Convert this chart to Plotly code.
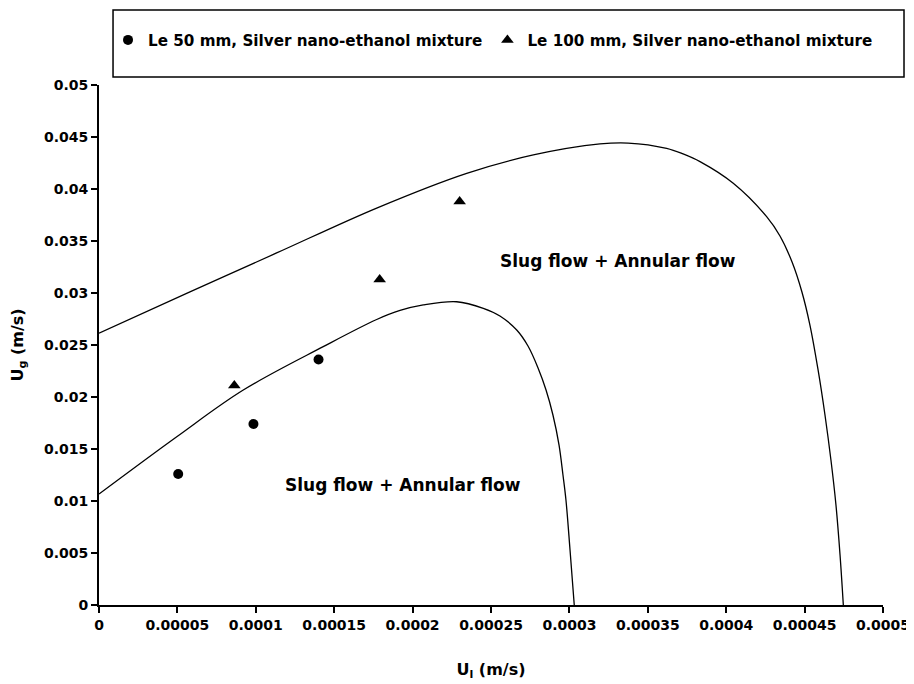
import plotly.graph_objects as go

# Data points
le50_x = [0.0000505, 0.0000985, 0.00014]
le50_y = [0.0126, 0.0174, 0.0236]
le100_x = [0.0000863, 0.000179, 0.00023]
le100_y = [0.0211, 0.0313, 0.0388]

# Boundary curves
lower_x = [0.0, 0.0000496, 0.0000920, 0.0001430, 0.0001771, 0.0001920, 0.0002068, 0.0002281,
           0.0002451, 0.0002557, 0.0002664, 0.0002736, 0.0002800, 0.0002851, 0.0002895,
           0.0002934, 0.0002959, 0.0002978, 0.0003004, 0.0003031]
lower_y = [0.01067, 0.01618, 0.02067, 0.02484, 0.02745, 0.02832, 0.02885, 0.02916,
           0.02853, 0.02779, 0.02644, 0.02490, 0.02279, 0.02067, 0.01827,
           0.01538, 0.01250, 0.0101, 0.00529, 0.0]
upper_x = [0.0, 0.0000580, 0.0001133, 0.0001771, 0.0002345, 0.0002770, 0.0003195,
           0.0003374, 0.0003620, 0.0003725, 0.0003833, 0.0004045, 0.0004258,
           0.0004343, 0.0004420, 0.0004483, 0.0004534, 0.0004586, 0.0004630, 0.0004668,
           0.0004700, 0.0004726, 0.0004747]
upper_y = [0.02613, 0.03010, 0.03385, 0.03817, 0.04151, 0.04327, 0.04433,
           0.04442, 0.04391, 0.04337, 0.04263, 0.04055, 0.03734,
           0.03548, 0.03298, 0.03010, 0.02692, 0.02260, 0.01827, 0.01394,
           0.00962, 0.00481, 0.0]

x_tickvals = [0, 0.00005, 0.0001, 0.00015, 0.0002, 0.00025, 0.0003, 0.00035, 0.0004, 0.00045, 0.0005]
x_ticktext = ["0", "0.00005", "0.0001", "0.00015", "0.0002", "0.00025", "0.0003", "0.00035", "0.0004", "0.00045", "0.0005"]
y_tickvals = [0, 0.005, 0.01, 0.015, 0.02, 0.025, 0.03, 0.035, 0.04, 0.045, 0.05]
y_ticktext = ["0", "0.005", "0.01", "0.015", "0.02", "0.025", "0.03", "0.035", "0.04", "0.045", "0.05"]

region_label = "Slug flow + Annular flow"

FONT = "DejaVu Sans"

fig = go.Figure()
fig.add_trace(go.Scatter(x=upper_x, y=upper_y, mode="lines", line=dict(color="black", width=1.3, shape="spline", smoothing=1.0),
                         showlegend=False, hoverinfo="skip"))
fig.add_trace(go.Scatter(x=lower_x, y=lower_y, mode="lines", line=dict(color="black", width=1.3, shape="spline", smoothing=1.0),
                         showlegend=False, hoverinfo="skip"))
fig.add_trace(go.Scatter(x=le50_x, y=le50_y, mode="markers", name="Le 50 mm, Silver nano-ethanol mixture",
                         marker=dict(symbol="circle", size=10, color="black")))
fig.add_trace(go.Scatter(x=le100_x, y=le100_y, mode="markers", name="Le 100 mm, Silver nano-ethanol mixture",
                         marker=dict(symbol="triangle-up", size=11, color="black")))

fig.add_annotation(x=0.0003307, y=0.03308, text=region_label, showarrow=False,
                   font=dict(family=FONT, size=17, color="black", weight="bold"))
fig.add_annotation(x=0.0001939, y=0.01154, text=region_label, showarrow=False,
                   font=dict(family=FONT, size=17, color="black", weight="bold"))

# legend frame
fig.add_shape(type="rect", xref="paper", yref="paper", x0=0.0179, x1=1.0268, y0=1.0154, y1=1.1442,
              line=dict(color="black", width=1.5), fillcolor="rgba(0,0,0,0)")

# the page body adds an 8 px offset, so the figure is sized/margined to compensate
fig.update_layout(
    width=906, height=676,
    margin=dict(l=91, r=31, t=77, b=79),
    paper_bgcolor="white", plot_bgcolor="white",
    font=dict(family=FONT, size=14, color="black", weight="bold"),
    legend=dict(orientation="h", x=0.0115, xanchor="left", y=1.0865, yanchor="middle",
                font=dict(family=FONT, size=15.2, color="black", weight="bold"),
                bgcolor="rgba(0,0,0,0)", borderwidth=0, itemwidth=30, tracegroupgap=0),
    xaxis=dict(range=[0, 0.0005], tickvals=x_tickvals, ticktext=x_ticktext, automargin=False,
               showline=True, linecolor="black", linewidth=2, showgrid=False, zeroline=False,
               ticks="outside", ticklen=6, tickwidth=1.5, tickcolor="black",
               tickfont=dict(family=FONT, size=14, weight="bold"),
               title=dict(text="U<sub>l</sub> (m/s)", font=dict(family=FONT, size=16, weight="bold"), standoff=32)),
    yaxis=dict(range=[0, 0.05], tickvals=y_tickvals, ticktext=y_ticktext, automargin=False,
               showline=True, linecolor="black", linewidth=2, showgrid=False, zeroline=False,
               ticks="outside", ticklen=6, tickwidth=1.5, tickcolor="black",
               tickfont=dict(family=FONT, size=14, weight="bold"),
               title=dict(text="U<sub>g</sub> (m/s)", font=dict(family=FONT, size=16, weight="bold"), standoff=18)),
)

fig.write_html("out.html")
